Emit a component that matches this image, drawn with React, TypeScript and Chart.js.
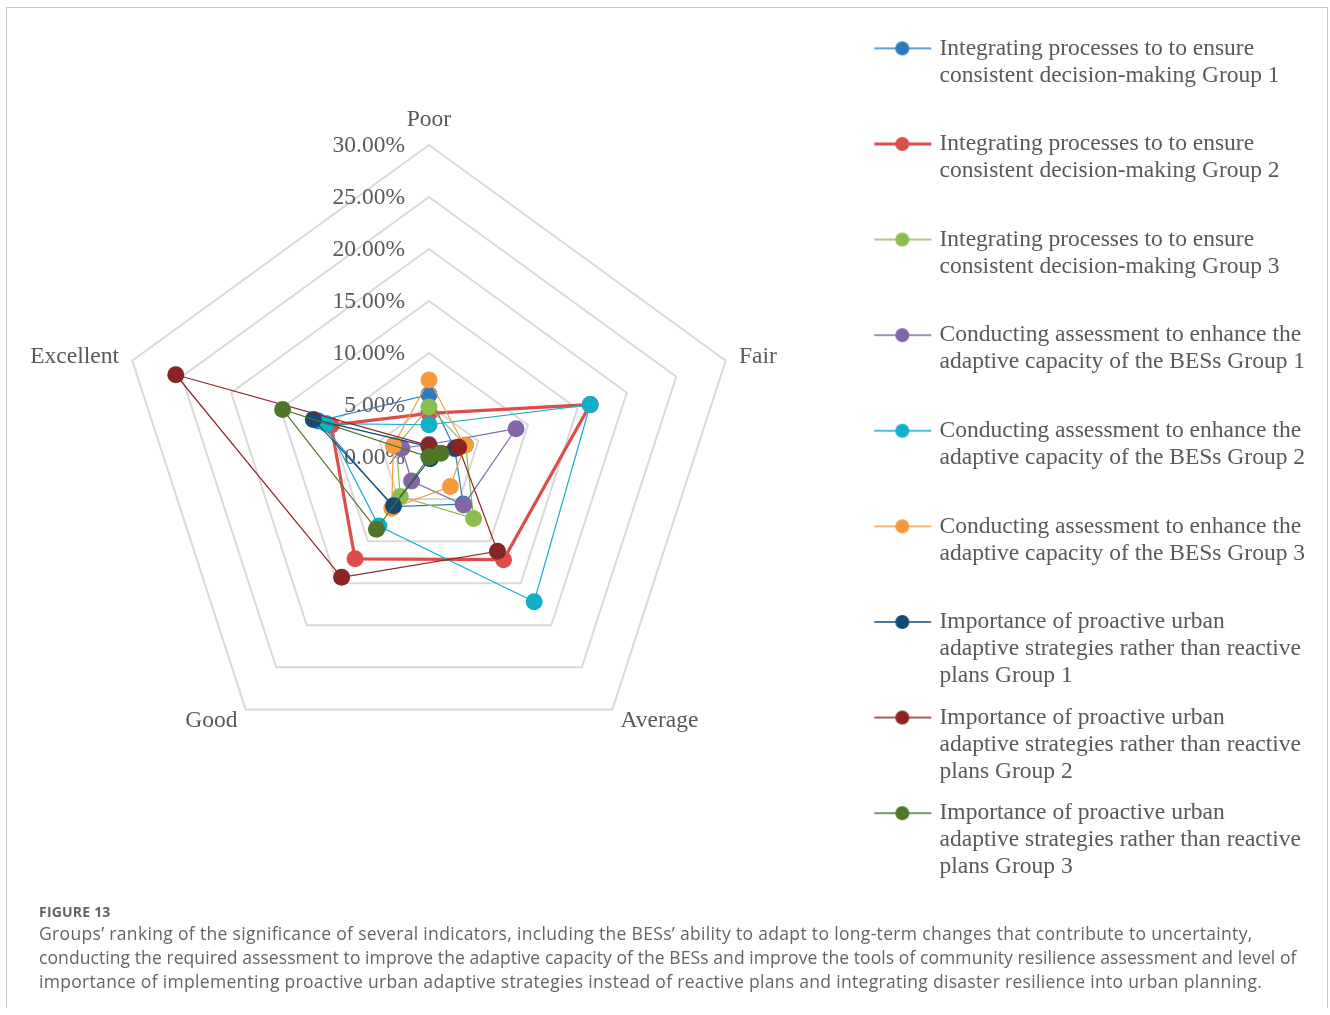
import React, { useRef, useEffect } from "react";
import Chart from "chart.js/auto";

// axis categories, clockwise from the top
const CATEGORIES = ["Poor", "Fair", "Average", "Good", "Excellent"];

// shares in percent, same order as CATEGORIES
const INTEGRATING_G1 = [6.0, 2.6, 5.6, 5.9, 11.2];
const INTEGRATING_G2 = [4.2, 16.3, 12.2, 12.1, 9.9];
const INTEGRATING_G3 = [4.8, 3.7, 7.3, 4.7, 3.3];
const CONDUCTING_G1 = [1.2, 8.8, 5.7, 2.85, 2.75];
const CONDUCTING_G2 = [3.1, 16.3, 17.2, 8.2, 10.4];
const CONDUCTING_G3 = [7.4, 3.6, 3.5, 6.1, 3.6];
const IMPORTANCE_G1 = [1.0, 2.7, 0.2, 5.8, 11.7];
const IMPORTANCE_G2 = [1.1, 3.0, 11.2, 14.3, 25.6];
const IMPORTANCE_G3 = [0.0, 1.2, 0.0, 8.6, 14.8];

const SERIES_DATA = [
	INTEGRATING_G1, INTEGRATING_G2, INTEGRATING_G3,
	CONDUCTING_G1, CONDUCTING_G2, CONDUCTING_G3,
	IMPORTANCE_G1, IMPORTANCE_G2, IMPORTANCE_G3,
];

const SERIES_NAMES = [
	"Integrating processes to to ensure consistent decision-making Group 1",
	"Integrating processes to to ensure consistent decision-making Group 2",
	"Integrating processes to to ensure consistent decision-making Group 3",
	"Conducting assessment to enhance the adaptive capacity of the BESs Group 1",
	"Conducting assessment to enhance the adaptive capacity of the BESs Group 2",
	"Conducting assessment to enhance the adaptive capacity of the BESs Group 3",
	"Importance of proactive urban adaptive strategies rather than reactive plans Group 1",
	"Importance of proactive urban adaptive strategies rather than reactive plans Group 2",
	"Importance of proactive urban adaptive strategies rather than reactive plans Group 3",
];

// legend text as printed (every entry gets a three-line slot)
const LEGEND_LINES = [
	["Integrating processes to to ensure", "consistent decision-making Group 1", ""],
	["Integrating processes to to ensure", "consistent decision-making Group 2", ""],
	["Integrating processes to to ensure", "consistent decision-making Group 3", ""],
	["Conducting assessment to enhance the", "adaptive capacity of the BESs Group 1", ""],
	["Conducting assessment to enhance the", "adaptive capacity of the BESs Group 2", ""],
	["Conducting assessment to enhance the", "adaptive capacity of the BESs Group 3", ""],
	["Importance of proactive urban", "adaptive strategies rather than reactive", "plans Group 1"],
	["Importance of proactive urban", "adaptive strategies rather than reactive", "plans Group 2"],
	["Importance of proactive urban", "adaptive strategies rather than reactive", "plans Group 3"],
];

const SERIES_COLORS = [
	"#2B7BBF", "#DC4E4B", "#8BBE4E",
	"#8465A8", "#12AFC9", "#F79A3E",
	"#114B76", "#8A2525", "#4E7628",
];
const SERIES_WIDTHS = [1.2, 3.2, 1.2, 1.2, 1.2, 1.2, 1.2, 1.2, 1.2];

const CAPTION_LINES = [
	"Groups\u2019 ranking of the significance of several indicators, including the BESs\u2019 ability to adapt to long-term changes that contribute to uncertainty,",
	"conducting the required assessment to improve the adaptive capacity of the BESs and improve the tools of community resilience assessment and level of",
	"importance of implementing proactive urban adaptive strategies instead of reactive plans and integrating disaster resilience into urban planning.",
];
const CAPTION_SPACING = [0.33, 0.08, 0.31];

const SERIF = "'Liberation Serif', 'Times New Roman', serif";
const TEXT_COLOR = "#595959";
const FONT_SIZE = 23.5;

// where the radar sits on the canvas
const CENTER_X = 429;
const CENTER_Y = 457;
const RADIUS = 312;

function makeMarker(color: string, width: number) {
	const c = document.createElement("canvas");
	c.width = 62;
	c.height = 18;
	const g = c.getContext("2d");
	if (g) {
		g.strokeStyle = color;
		g.lineWidth = Math.max(width, 1.6);
		g.beginPath();
		g.moveTo(4, 9);
		g.lineTo(61, 9);
		g.stroke();
		g.fillStyle = color;
		g.beginPath();
		g.arc(32, 9, 7, 0, Math.PI * 2);
		g.fill();
	}
	return c;
}

// tick values on the left of the vertical axis, category names outside the web
const axisTextPlugin = {
	id: "axisText",
	beforeDatasetsDraw(chart: any) {
		const scale = chart.scales.r;
		const ctx = chart.ctx;
		ctx.save();
		ctx.font = `${FONT_SIZE}px ${SERIF}`;
		ctx.fillStyle = TEXT_COLOR;
		ctx.textAlign = "right";
		ctx.textBaseline = "middle";
		scale.ticks.forEach((t: any) => {
			const d = scale.getDistanceFromCenterForValue(t.value);
			ctx.fillText(t.value.toFixed(2) + "%", scale.xCenter - 24, scale.yCenter - d + 1);
		});
		CATEGORIES.forEach((label, i) => {
			const p = scale.getPointPosition(i, scale.drawingArea + 14);
			const dx = p.x - scale.xCenter;
			const top = Math.abs(dx) < 1;
			ctx.textAlign = top ? "center" : dx > 0 ? "left" : "right";
			ctx.textBaseline = top ? "bottom" : "middle";
			ctx.fillText(label, p.x, top ? p.y + 1 : p.y + 0.5);
		});
		ctx.restore();
	},
};

const RadarChart: React.FC = () => {
	const chartRef = useRef<HTMLCanvasElement | null>(null);
	const chartInstance = useRef<Chart | null>(null);

	useEffect(() => {
		if (chartInstance.current) {
			chartInstance.current.destroy();
			chartInstance.current = null;
		}
		if (!chartRef.current) return;

		const markers = SERIES_COLORS.map((c, i) => makeMarker(c, SERIES_WIDTHS[i]));

		const datasets = SERIES_DATA.map((data, i) => ({
			label: SERIES_NAMES[i],
			data: data,
			borderColor: SERIES_COLORS[i],
			backgroundColor: SERIES_COLORS[i],
			borderWidth: SERIES_WIDTHS[i],
			pointRadius: 8.5,
			pointHoverRadius: 8.5,
			pointBackgroundColor: SERIES_COLORS[i],
			pointBorderColor: SERIES_COLORS[i],
			pointBorderWidth: 0,
			fill: false,
			order: SERIES_DATA.length - i,
			clip: false,
		}));

		chartInstance.current = new Chart(chartRef.current, {
			type: "radar",
			data: { labels: CATEGORIES, datasets },
			options: {
				animation: false,
				responsive: true,
				maintainAspectRatio: false,
				layout: { padding: { top: 22, right: 15, bottom: 0, left: 0 } },
				scales: {
					r: {
						min: 0,
						max: 30,
						ticks: { stepSize: 5, display: false },
						grid: { color: "#d9d9d9", lineWidth: 2 },
						angleLines: { display: false },
						pointLabels: { display: false },
						afterFit: (scale: any) => {
							scale.xCenter = CENTER_X;
							scale.yCenter = CENTER_Y;
							scale.drawingArea = RADIUS;
						},
					},
				},
				plugins: {
					tooltip: { enabled: false },
					legend: {
						position: "right",
						align: "start",
						labels: {
							usePointStyle: true,
							pointStyleWidth: 53,
							padding: 14.6,
							color: TEXT_COLOR,
							font: { family: SERIF, size: FONT_SIZE, lineHeight: "27px" },
							generateLabels: (chart: any) =>
								chart.data.datasets.map((ds: any, i: number) => ({
									text: LEGEND_LINES[i],
									fillStyle: SERIES_COLORS[i],
									strokeStyle: SERIES_COLORS[i],
									fontColor: TEXT_COLOR,
									lineWidth: 0,
									pointStyle: markers[i],
									hidden: !chart.isDatasetVisible(i),
									datasetIndex: i,
								})),
						},
					},
				},
			} as any,
			plugins: [axisTextPlugin],
		});

		return () => {
			if (chartInstance.current) {
				chartInstance.current.destroy();
				chartInstance.current = null;
			}
		};
	}, []);

	return <canvas ref={chartRef}></canvas>;
};

const App: React.FC = () => {
	return (
		<div style={{ position: "absolute", left: 0, top: 0, width: 1330, height: 1015, background: "#fff" }}>
			<div
				style={{
					position: "absolute",
					left: 6,
					top: 7,
					width: 1320,
					height: 1000,
					borderTop: "1.5px solid #c9c9c9",
					borderLeft: "1.5px solid #c9c9c9",
					borderRight: "1.5px solid #c9c9c9",
				}}
			></div>
			<div style={{ position: "absolute", left: 0, top: 0, width: 1330, height: 905 }}>
				<RadarChart />
			</div>
			<div
				style={{
					position: "absolute",
					left: 39,
					top: 902,
					fontFamily: "'Open Sans', 'Noto Sans', sans-serif",
					color: "#646464",
				}}
			>
				<div style={{ fontSize: 14, fontWeight: 700, lineHeight: "20px", letterSpacing: 0.2 }}>FIGURE 13</div>
				{CAPTION_LINES.map((line, i) => (
					<div
						key={i}
						style={{
							fontSize: 17.5,
							lineHeight: "24px",
							letterSpacing: CAPTION_SPACING[i],
							whiteSpace: "nowrap",
							marginTop: i === 0 ? -1 : 0,
						}}
					>
						{line}
					</div>
				))}
			</div>
		</div>
	);
};

export default App;
